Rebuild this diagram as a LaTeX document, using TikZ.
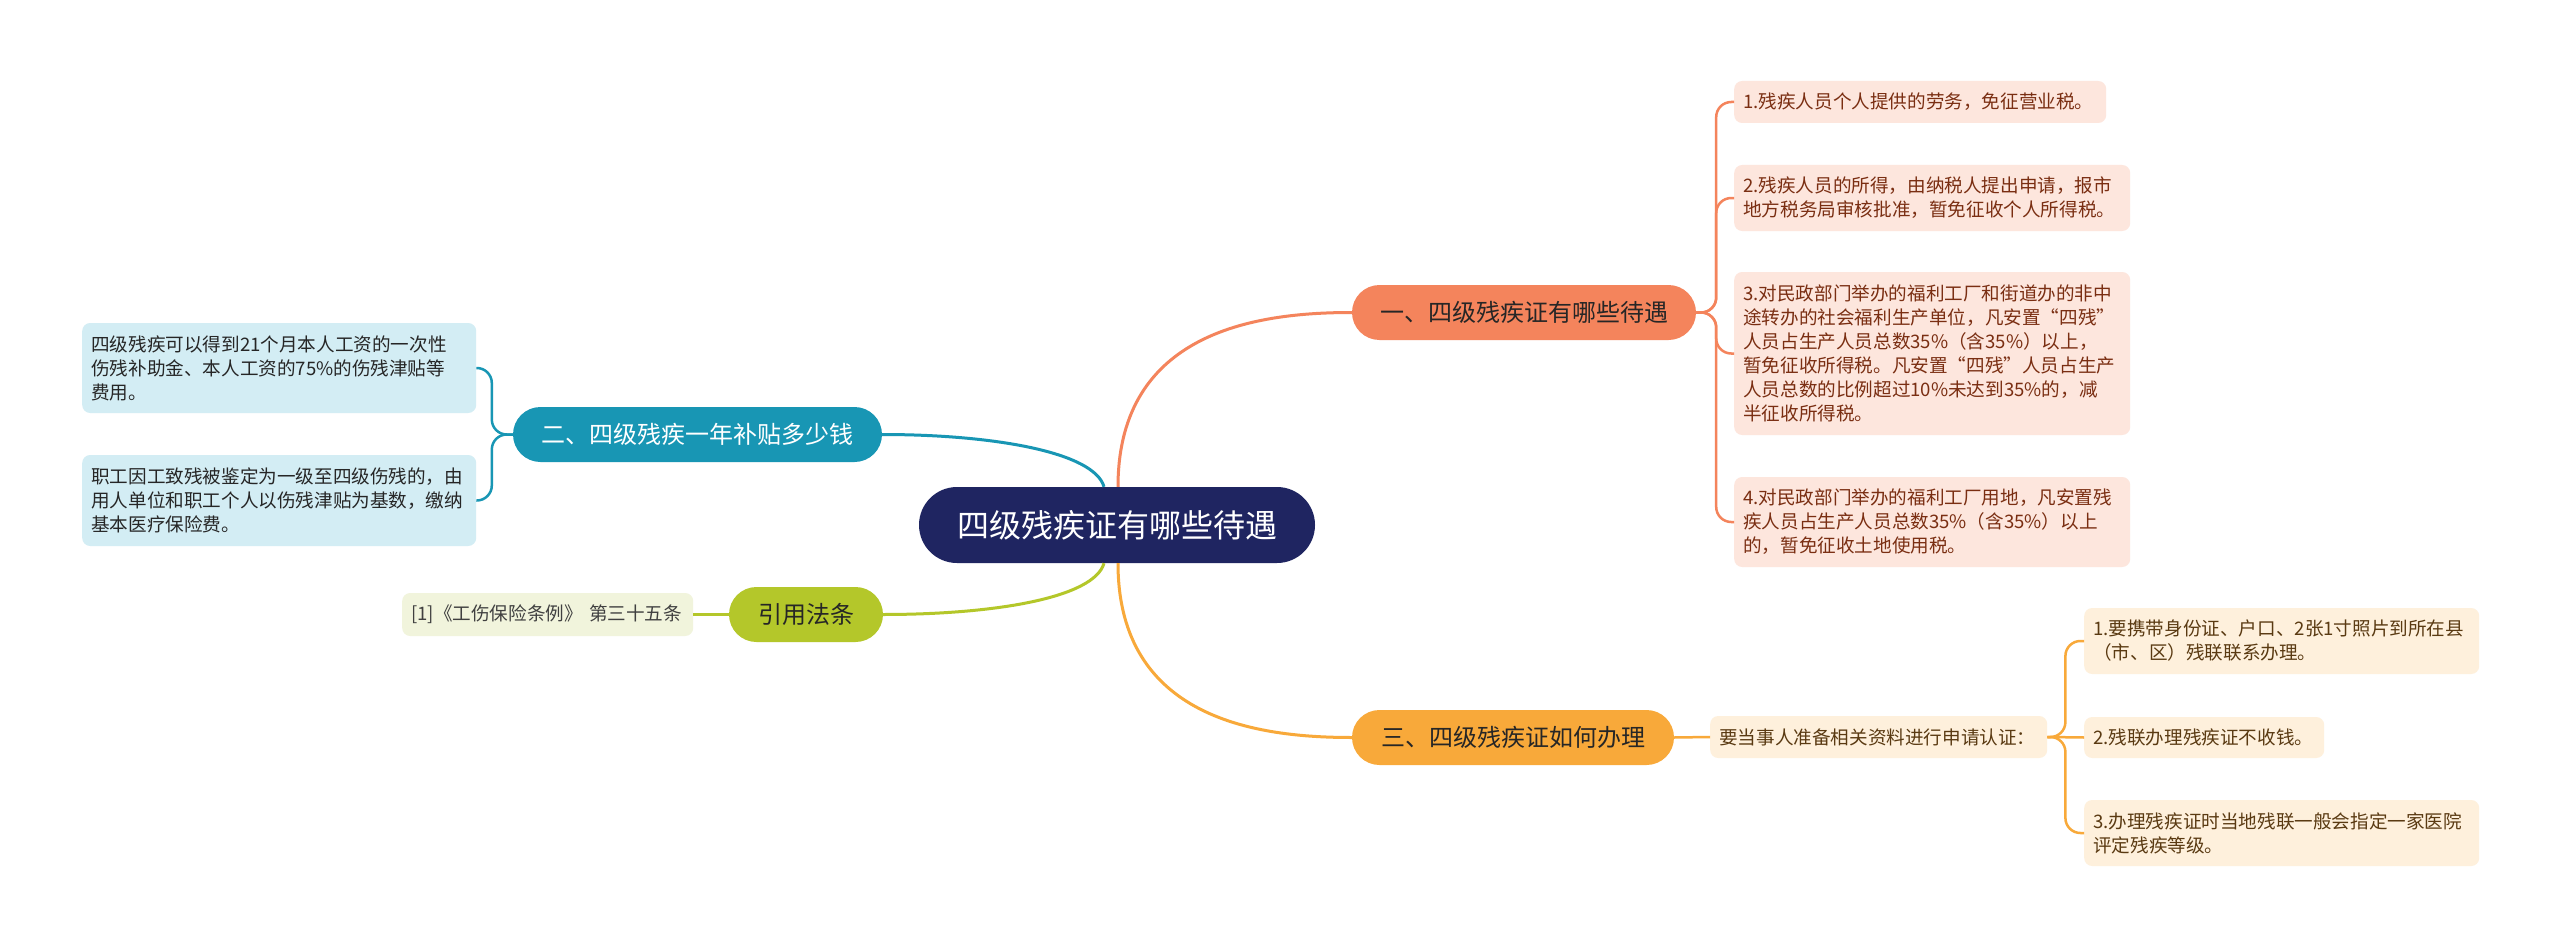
\documentclass[tikz,border=0pt]{standalone}
\usepackage{fontspec}
\newfontfamily\cjk{Noto Sans CJK SC}
\usepackage{xcolor}
\usepackage{tikz}
\usetikzlibrary{positioning,calc}
\definecolor{rootblue}{HTML}{1F2561}
\definecolor{taxred}{HTML}{F4845C}
\definecolor{taxleaf}{HTML}{FDE6DD}
\definecolor{taxtext}{HTML}{7A2E12}
\definecolor{aidteal}{HTML}{1896B4}
\definecolor{aidleaf}{HTML}{D3EDF4}
\definecolor{lawgreen}{HTML}{B4C72A}
\definecolor{lawleaf}{HTML}{F1F4DC}
\definecolor{applyorange}{HTML}{F8A93A}
\definecolor{applyleaf}{HTML}{FEF0DC}
\definecolor{applytext}{HTML}{5A3A12}

\begin{document}
\begin{tikzpicture}[x=1pt, y=-1pt, font=\cjk,
  topic/.style={rounded corners=27.5pt, minimum height=55pt, inner sep=0pt, text=black!85, font=\cjk\fontsize{24}{30}\selectfont},
  leaf/.style={rounded corners=8pt, anchor=west, inner xsep=9pt, inner ysep=0pt, align=left, font=\cjk\fontsize{18.6}{24}\selectfont},
  link/.style={line width=3pt},
  twig/.style={line width=2.5pt, rounded corners=15pt}]
  \fill[white] (0,0) rectangle (2560,947);

  \node[fill=rootblue, text=white, rounded corners=38pt, minimum width=396pt, minimum height=76pt, inner sep=0pt, font=\cjk\fontsize{32}{38}\selectfont] (root) at (1117,525) {四级残疾证有哪些待遇};

  \node[topic, fill=taxred, minimum width=344pt] (tax) at (1524,312.5) {一、四级残疾证有哪些待遇};
  \node[topic, fill=aidteal, text=white, minimum width=369pt] (aid) at (697.5,434.5) {二、四级残疾一年补贴多少钱};
  \node[topic, fill=lawgreen, minimum width=154pt] (law) at (806,614.5) {引用法条};
  \node[topic, fill=applyorange, minimum width=322pt] (apply) at (1513,737.5) {三、四级残疾证如何办理};

  \node[leaf, fill=taxleaf, text=taxtext, text width=354pt, minimum height=42pt] (tax1) at (1734,102) {1.残疾人员个人提供的劳务，免征营业税。};
  \node[leaf, fill=taxleaf, text=taxtext, text width=378pt, minimum height=66pt] (tax2) at (1734,198) {2.残疾人员的所得，由纳税人提出申请，报市\\地方税务局审核批准，暂免征收个人所得税。};
  \node[leaf, fill=taxleaf, text=taxtext, text width=378pt, minimum height=163pt] (tax3) at (1734,353.5) {3.对民政部门举办的福利工厂和街道办的非中\\途转办的社会福利生产单位，凡安置“四残”\\人员占生产人员总数35\%（含35\%）以上，\\暂免征收所得税。凡安置“四残”人员占生产\\人员总数的比例超过10\%未达到35\%的，减\\半征收所得税。};
  \node[leaf, fill=taxleaf, text=taxtext, text width=378pt, minimum height=90pt] (tax4) at (1734,522) {4.对民政部门举办的福利工厂用地，凡安置残\\疾人员占生产人员总数35\%（含35\%）以上\\的，暂免征收土地使用税。};

  \node[leaf, fill=aidleaf, text=black!85, text width=376pt, minimum height=90pt] (aid1) at (82,368) {四级残疾可以得到21个月本人工资的一次性\\伤残补助金、本人工资的75\%的伤残津贴等\\费用。};
  \node[leaf, fill=aidleaf, text=black!85, text width=376pt, minimum height=91pt] (aid2) at (82,500.5) {职工因工致残被鉴定为一级至四级伤残的，由\\用人单位和职工个人以伤残津贴为基数，缴纳\\基本医疗保险费。};

  \node[leaf, fill=lawleaf, text=black!75, text width=273pt, minimum height=43pt] (lawref) at (402,614.5) {{[1]}《工伤保险条例》 第三十五条};

  \node[leaf, fill=applyleaf, text=applytext, text width=319pt, minimum height=42pt] (applyreq) at (1710,737) {要当事人准备相关资料进行申请认证：};
  \node[leaf, fill=applyleaf, text=applytext, text width=377pt, minimum height=66pt] (step1) at (2084,641) {1.要携带身份证、户口、2张1寸照片到所在县\\（市、区）残联联系办理。};
  \node[leaf, fill=applyleaf, text=applytext, text width=222pt, minimum height=41pt] (step2) at (2084,737.5) {2.残联办理残疾证不收钱。};
  \node[leaf, fill=applyleaf, text=applytext, text width=377pt, minimum height=66pt] (step3) at (2084,833) {3.办理残疾证时当地残联一般会指定一家医院\\评定残疾等级。};

  \draw[link, taxred] ([xshift=1pt]root.north) .. controls +(0,-157) and +(-92,0) .. (tax.west);
  \draw[link, aidteal] ([xshift=-13pt]root.north) .. controls +(-10,-35) and +(110,0) .. (aid.east);
  \draw[link, lawgreen] ([xshift=-13pt]root.south) .. controls +(-10,35) and +(110,0) .. (law.east);
  \draw[link, applyorange] ([xshift=1pt]root.south) .. controls +(0,157) and +(-92,0) .. (apply.west);

  \coordinate (taxspine) at ([xshift=20pt]tax.east);
  \coordinate (aidspine) at ([xshift=-21pt]aid.west);
  \coordinate (applyspine) at ([xshift=18pt]applyreq.east);
  \foreach \n in {1,...,4}
    \draw[twig, taxred] (tax.east) -- (taxspine) |- (tax\n.west);
  \foreach \n in {1,2}
    \draw[twig, aidteal] (aid.west) -- (aidspine) |- (aid\n.east);
  \draw[twig, lawgreen] (law.west) -- (lawref.east);
  \draw[twig, applyorange] (apply.east) -- (applyreq.west);
  \draw[twig, applyorange] (applyreq.east) -- (step2.west);
  \foreach \n in {1,3}
    \draw[twig, applyorange] (applyreq.east) -- (applyspine) |- (step\n.west);
\end{tikzpicture}
\end{document}
